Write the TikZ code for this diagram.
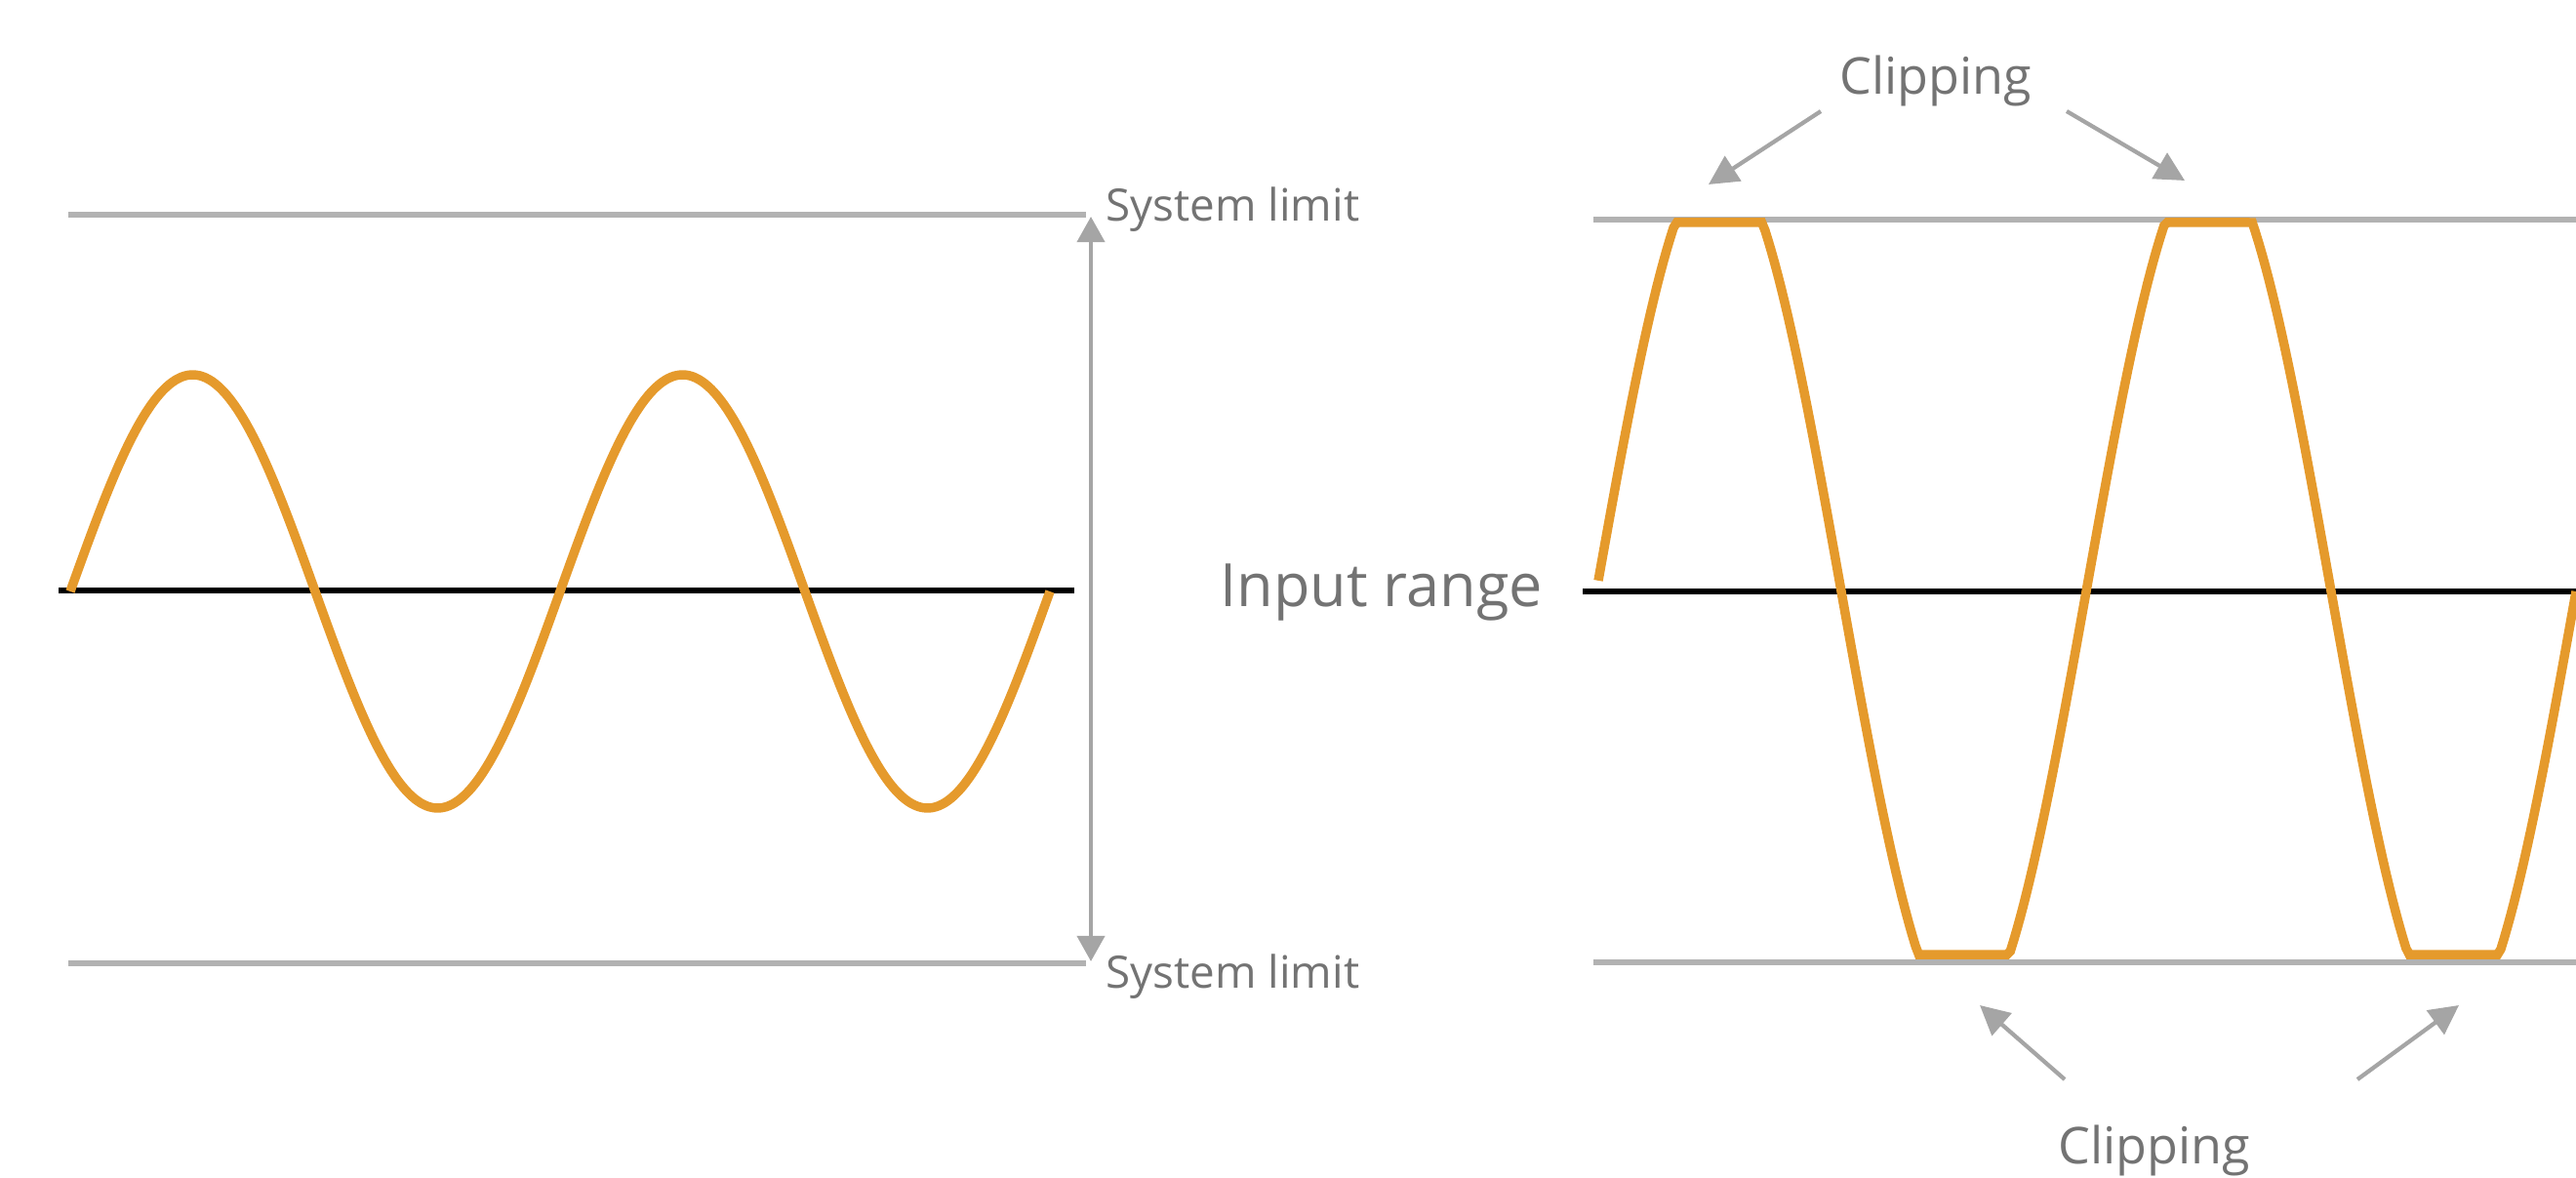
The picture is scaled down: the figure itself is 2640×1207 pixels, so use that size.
\documentclass[tikz,border=0pt]{standalone}
\usepackage{fontspec}
\setmainfont{Open Sans}
\usepackage{tikz}
\usetikzlibrary{arrows.meta}
\definecolor{wave}{RGB}{229,154,44}
\definecolor{limitgray}{RGB}{178,178,178}
\definecolor{pointgray}{RGB}{165,165,165}
\definecolor{labelgray}{RGB}{115,115,115}

\begin{document}
\begin{tikzpicture}[
                x=0.01cm, y=-0.01cm,
                limit/.style={draw=limitgray, line width=1.7pt},
                axis/.style={draw=black, line width=1.6pt},
                signal/.style={draw=wave, line width=2.7pt, line join=miter},
                pointer/.style={draw=pointgray, line width=1.2pt, -{Triangle[length=3mm, width=3mm]}},
                spanarrow/.style={draw=pointgray, line width=1.1pt, {Triangle[length=2.6mm, width=2.8mm]}-{Triangle[length=2.6mm, width=2.8mm]}},
                textlabel/.style={text=labelgray, inner sep=0pt, font=\fontsize{13}{15}\selectfont},
                biglabel/.style={textlabel, font=\fontsize{17.4}{20}\selectfont},
                cliplabel/.style={textlabel, font=\fontsize{14.8}{18}\selectfont}
            ]
                \useasboundingbox (0,0) rectangle (2640,1207);

                % Clean signal
                \draw[limit] (70,220) -- (1113,220);
                \draw[limit] (70,987) -- (1113,987);
                \draw[axis] (60,605) -- (1101,605);
                \draw[signal] plot[domain=72:1076, samples=160, smooth] (\x, {606 - 222*sin((\x-72)/502*360)});

                \coordinate (rtop) at (1118,222);
                \coordinate (rbot) at (1118,985);
                \draw[spanarrow] (rtop) -- (rbot);
                \node[textlabel, anchor=base west] (limtop) at (1133,227) {System limit};
                \node[textlabel, anchor=base west] (limbot) at (1133,1012) {System limit};
                \node[biglabel, anchor=base west] (inrange) at (1250,622) {Input range};

                % Clipped signal
                \draw[limit] (1633,225) -- (2640,225);
                \draw[limit] (1633,986) -- (2640,986);
                \draw[axis] (1622,606) -- (2640,606);
                \draw[signal] plot[domain=1638:2640, samples=300] (\x, {606 - max(-372, min(378, 446*sin((\x-1636)/502*360)))});

                \node[cliplabel, anchor=base] (cliptop) at (1984,97) {Clipping};
                \node[cliplabel, anchor=base] (clipbot) at (2208,1192) {Clipping};
                \coordinate (ct1) at (1866,114);
                \coordinate (ct2) at (2118,114);
                \coordinate (cb1) at (2116,1106);
                \coordinate (cb2) at (2416,1106);
                \draw[pointer] (ct1) -- (1751,189);
                \draw[pointer] (ct2) -- (2239,185);
                \draw[pointer] (cb1) -- (2029,1030);
                \draw[pointer] (cb2) -- (2520,1030);
            \end{tikzpicture}
\end{document}
